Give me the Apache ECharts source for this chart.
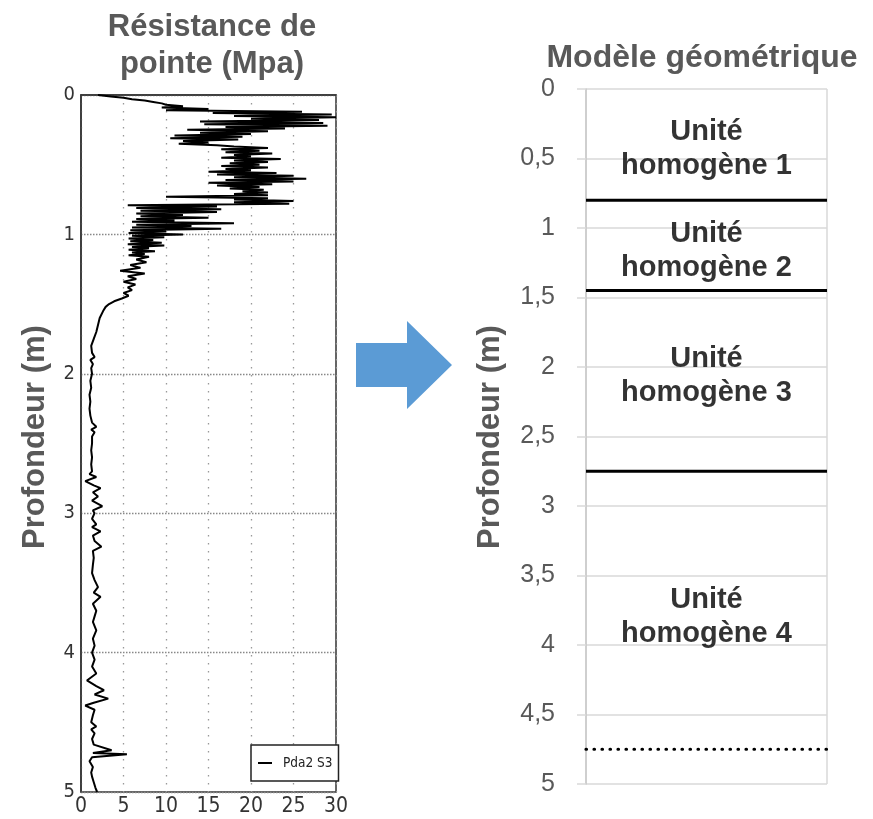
<!DOCTYPE html>
<html>
<head>
<meta charset="utf-8">
<script src="https://cdn.jsdelivr.net/npm/echarts@6/dist/echarts.min.js"></script>
<style>
  html, body { margin: 0; padding: 0; background: #fff; }
  #chart { width: 873px; height: 819px; }
</style>
</head>
<body>
<div id="chart"></div>
<script>
// Cone penetration profile: depth (m) and tip resistance (MPa)
const profondeur = [
  0.00, 0.01, 0.02, 0.03, 0.04, 0.05, 0.06, 0.07, 0.08, 0.09,
  0.10, 0.11, 0.12, 0.13, 0.14, 0.15, 0.16, 0.17, 0.18, 0.19,
  0.20, 0.21, 0.22, 0.23, 0.24, 0.25, 0.26, 0.27, 0.28, 0.29,
  0.30, 0.31, 0.32, 0.33, 0.34, 0.35, 0.36, 0.37, 0.38, 0.39,
  0.40, 0.41, 0.42, 0.43, 0.44, 0.45, 0.46, 0.47, 0.48, 0.49,
  0.50, 0.51, 0.52, 0.53, 0.54, 0.55, 0.56, 0.57, 0.58, 0.59,
  0.60, 0.61, 0.62, 0.63, 0.64, 0.65, 0.66, 0.67, 0.68, 0.69,
  0.70, 0.71, 0.72, 0.73, 0.74, 0.75, 0.76, 0.77, 0.78, 0.79,
  0.80, 0.81, 0.82, 0.83, 0.84, 0.85, 0.86, 0.87, 0.88, 0.89,
  0.90, 0.91, 0.92, 0.93, 0.94, 0.95, 0.96, 0.97, 0.98, 0.99,
  1.00, 1.01, 1.02, 1.03, 1.04, 1.05, 1.06, 1.07, 1.08, 1.09,
  1.10, 1.11, 1.12, 1.13, 1.14, 1.15,
  1.16, 1.18, 1.20, 1.22, 1.24, 1.26, 1.28, 1.30, 1.32, 1.34,
  1.36, 1.38, 1.40, 1.42, 1.44, 1.46, 1.48, 1.50, 1.52, 1.55,
  1.60, 1.65, 1.70, 1.75, 1.80, 1.85, 1.88, 1.90, 1.93, 1.96,
  2.00, 2.05, 2.10, 2.15, 2.20, 2.25, 2.30, 2.35, 2.38, 2.40,
  2.42, 2.45, 2.50, 2.55, 2.60, 2.65, 2.70, 2.72, 2.74, 2.77,
  2.80, 2.82, 2.85, 2.88, 2.91, 2.95, 2.98, 3.00, 3.04, 3.08,
  3.10, 3.13, 3.16, 3.20, 3.24, 3.27, 3.32, 3.37, 3.43, 3.48,
  3.53, 3.57, 3.60, 3.65, 3.70, 3.74, 3.78, 3.84, 3.90, 3.95,
  4.00, 4.05, 4.10, 4.15, 4.20, 4.24, 4.27, 4.30, 4.33, 4.36,
  4.38, 4.41, 4.45, 4.50, 4.53, 4.55, 4.58, 4.62, 4.66, 4.70,
  4.72, 4.73, 4.75, 4.78, 4.82, 4.86, 4.89, 4.93, 4.97, 5.00
];
const resistance = [
  2.0, 3.5, 5.0, 6.0, 7.5, 8.5, 9.5, 10.0, 12.0, 9.5,
  15.0, 10.0, 26.0, 15.5, 29.5, 18.0, 30.0, 20.0, 28.0, 14.0,
  28.5, 14.5, 29.0, 17.0, 24.0, 12.5, 22.0, 14.0, 20.0, 11.0,
  19.0, 10.5, 18.5, 12.0, 15.0, 11.5, 16.0, 18.0, 22.0, 16.5,
  21.0, 17.0, 22.5, 18.0, 20.0, 16.5, 23.5, 18.0, 22.0, 17.5,
  21.0, 16.5, 22.0, 17.0, 20.0, 15.0, 23.0, 16.0, 25.0, 18.0,
  26.5, 17.0, 25.0, 15.0, 22.5, 16.0, 21.0, 17.5, 21.5, 19.0,
  22.0, 18.0, 22.0, 10.0, 22.0, 18.0, 25.0, 18.0, 24.5, 5.5,
  16.0, 6.5, 16.5, 7.0, 16.0, 6.5, 12.0, 7.0, 15.0, 6.5,
  11.0, 6.0, 18.0, 6.5, 13.0, 6.0, 16.5, 5.8, 10.0, 5.6,
  12.0, 6.0, 9.8, 5.6, 8.5, 5.8, 9.5, 5.5, 9.8, 6.0,
  8.0, 5.6, 8.7, 6.0, 7.5, 5.6,
  8.0, 6.5, 7.7, 5.8, 7.0, 4.6, 7.5, 5.5, 6.5, 5.0,
  6.4, 5.5, 6.0, 5.0, 5.6, 4.8, 3.9, 3.3, 2.9, 2.6,
  2.2, 2.0, 1.8, 1.5, 1.2, 1.3, 1.6, 1.1, 1.4, 1.2,
  1.3, 1.1, 1.2, 1.0, 1.1, 1.0, 1.1, 1.3, 1.8, 1.2,
  1.6, 1.3, 1.3, 1.2, 1.3, 1.2, 1.3, 1.0, 1.8, 0.5,
  1.5, 2.3, 1.4, 2.0, 1.3, 2.5, 1.4, 1.6, 1.3, 1.8,
  1.3, 2.3, 1.4, 1.6, 2.4, 1.4, 1.5, 1.4, 1.3, 1.6,
  2.0, 1.5, 2.3, 1.4, 1.8, 1.6, 1.4, 1.8, 1.4, 1.6,
  1.3, 1.6, 1.3, 1.8, 0.7, 1.8, 2.7, 1.6, 3.2, 1.5,
  0.5, 1.6, 1.4, 1.2, 1.8, 1.2, 1.6, 1.3, 1.5, 3.6,
  1.4, 5.4, 1.3, 1.0, 1.4, 1.2, 1.3, 1.5, 1.7, 1.9
];
const nomEssai = 'Pda2 S3';

// Geometric model: layer boundaries (m) and layer labels
const limitesCouches = [0.8, 1.45, 2.75];
const limiteFond = 4.75;
const unites = ['Unité\nhomogène 1', 'Unité\nhomogène 2', 'Unité\nhomogène 3', 'Unité\nhomogène 4'];
const centresUnites = [0.435, 1.165, 2.065, 3.795];

const titreGauche = 'Résistance de\npointe (Mpa)';
const titreDroite = 'Modèle géométrique';
const nomAxeProf = 'Profondeur (m)';

const GREY = '#595959';
const NARROW = "'Liberation Sans Narrow', 'DejaVu Sans Condensed', sans-serif";
const ARIAL = "'Liberation Sans', Arial, sans-serif";

const chart = echarts.init(document.getElementById('chart'), null, { renderer: 'canvas' });

const boundarySeries = limitesCouches.map(d => ({
  type: 'line', xAxisIndex: 1, yAxisIndex: 1,
  data: [[0, d], [1, d]], symbol: 'none', silent: true,
  lineStyle: { color: '#000', width: 3 }
}));

chart.setOption({
  animation: false,
  backgroundColor: '#fff',
  title: [
    {
      text: titreGauche, left: 207, top: 4, textAlign: 'center',
      textStyle: { fontFamily: ARIAL, fontSize: 31, fontWeight: 'bold', color: GREY, lineHeight: 37 }
    },
    {
      text: titreDroite, left: 697, top: 35, textAlign: 'center',
      textStyle: { fontFamily: ARIAL, fontSize: 32, fontWeight: 'bold', color: GREY, lineHeight: 37 }
    }
  ],
  legend: {
    data: [{ name: nomEssai, icon: 'rect' }],
    left: 251, top: 745,
    orient: 'vertical',
    padding: [10, 6, 10, 7],
    borderColor: '#222', borderWidth: 1.5, borderRadius: 0,
    backgroundColor: '#fff',
    itemWidth: 14, itemHeight: 2, itemGap: 0,
    textStyle: { fontFamily: NARROW, fontSize: 13.5, lineHeight: 16, color: '#222', padding: [0, 0, 0, 6] }
  },
  grid: [
    { left: 81, right: 537, top: 95, bottom: 27, show: true, borderColor: '#333', borderWidth: 1.5, backgroundColor: '#fff' },
    { left: 586, right: 46, top: 89, bottom: 35 }
  ],
  xAxis: [
    {
      gridIndex: 0, type: 'value', min: 0, max: 30, interval: 5,
      axisLine: { show: true, lineStyle: { color: '#333', width: 1.5 } },
      axisTick: { show: false },
      axisLabel: { fontFamily: NARROW, fontSize: 21, color: '#333', margin: 4 },
      splitLine: { show: true, lineStyle: { color: '#999', width: 1.3, type: [1.5, 6.5] } }
    },
    {
      gridIndex: 1, type: 'value', min: 0, max: 1, interval: 1,
      axisLine: { show: false }, axisTick: { show: false }, axisLabel: { show: false },
      splitLine: { show: true, lineStyle: { color: '#d9d9d9', width: 1.5 } }
    }
  ],
  yAxis: [
    {
      gridIndex: 0, type: 'value', inverse: true, min: 0, max: 5, interval: 1,
      axisLine: { show: true, lineStyle: { color: '#333', width: 1.5 } },
      axisTick: { show: false },
      axisLabel: { fontFamily: NARROW, fontSize: 20, color: '#333', margin: 6 },
      splitLine: { show: true, lineStyle: { color: '#888', width: 1.3, type: [1.5, 1.5] } }
    },
    {
      gridIndex: 1, type: 'value', inverse: true, min: 0, max: 5, interval: 0.5,
      axisLine: { show: true, lineStyle: { color: '#c8c8c8', width: 1.5 } },
      axisTick: { show: true, length: 9, lineStyle: { color: '#d9d9d9', width: 1.5 } },
      axisLabel: {
        fontFamily: ARIAL, fontSize: 25, color: GREY, margin: 31,
        formatter: v => String(v).replace('.', ',')
      },
      splitLine: { show: true, lineStyle: { color: '#d9d9d9', width: 1.5 } }
    }
  ],
  series: [
    {
      name: nomEssai, type: 'line', xAxisIndex: 0, yAxisIndex: 0,
      data: resistance.map((v, i) => [v, profondeur[i]]),
      symbol: 'none', silent: true,
      lineStyle: { color: '#000', width: 2 },
      itemStyle: { color: '#000' }
    },
    ...boundarySeries,
    {
      type: 'line', xAxisIndex: 1, yAxisIndex: 1,
      data: [[0, limiteFond], [1, limiteFond]], symbol: 'none', silent: true,
      lineStyle: { color: '#000', width: 3.2, type: [0.5, 7.5], cap: 'round' }
    },
    {
      type: 'scatter', xAxisIndex: 1, yAxisIndex: 1,
      data: centresUnites.map((d, i) => ({ value: [0.5, d], name: unites[i] })),
      symbolSize: 0, silent: true,
      label: {
        show: true, position: 'inside', formatter: p => p.name,
        fontFamily: ARIAL, fontSize: 29, fontWeight: 'bold', color: '#000', lineHeight: 34, align: 'center'
      }
    }
  ],
  graphic: [
    {
      type: 'polygon', silent: true,
      shape: { points: [[356, 343], [407, 343], [407, 321], [452, 365], [407, 409], [407, 387], [356, 387]] },
      style: { fill: '#5B9BD5' }
    },
    {
      type: 'text', x: 35, y: 437, rotation: Math.PI / 2, silent: true,
      style: { text: nomAxeProf, x: 0, y: 0, align: 'center', verticalAlign: 'middle',
        font: "bold 31px 'Liberation Sans', Arial, sans-serif", fill: GREY }
    },
    {
      type: 'text', x: 490, y: 437, rotation: Math.PI / 2, silent: true,
      style: { text: nomAxeProf, x: 0, y: 0, align: 'center', verticalAlign: 'middle',
        font: "bold 31px 'Liberation Sans', Arial, sans-serif", fill: GREY }
    }
  ]
});
</script>
</body>
</html>
